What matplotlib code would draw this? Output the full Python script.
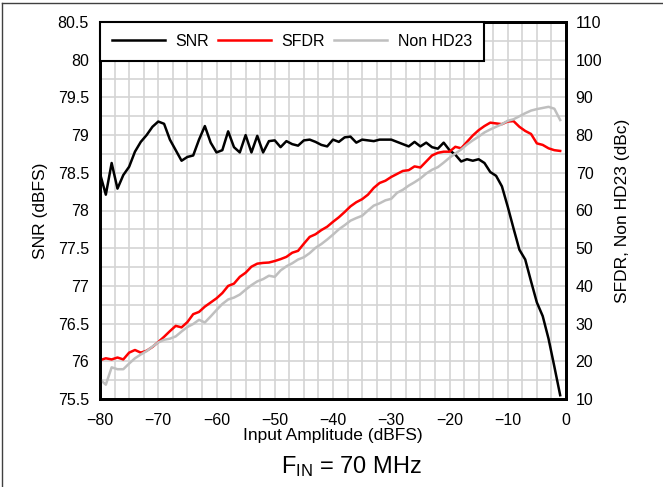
import numpy as np
import matplotlib
matplotlib.use("Agg")
import matplotlib.pyplot as plt
from matplotlib.lines import Line2D
from matplotlib.ticker import MultipleLocator

plt.rcParams['font.family'] = ['Liberation Sans', 'DejaVu Sans']
plt.rcParams['font.size'] = 11.5

# input amplitude (dBFS), 1 dB steps
amp = np.arange(-80, 0)

snr = [78.49, 78.21, 78.63, 78.29, 78.47, 78.58, 78.78, 78.91, 79.00, 79.11,
       79.18, 79.15, 78.94, 78.80, 78.66, 78.71, 78.73, 78.94, 79.12, 78.90,
       78.77, 78.80, 79.05, 78.84, 78.77, 79.00, 78.77, 78.99, 78.77, 78.92,
       78.93, 78.84, 78.92, 78.88, 78.86, 78.93, 78.94, 78.91, 78.87, 78.85,
       78.94, 78.91, 78.97, 78.98, 78.90, 78.94, 78.93, 78.92, 78.94, 78.94,
       78.94, 78.91, 78.88, 78.85, 78.91, 78.85, 78.90, 78.84, 78.82, 78.90,
       78.80, 78.74, 78.65, 78.68, 78.66, 78.68, 78.63, 78.51, 78.46, 78.32,
       78.05, 77.76, 77.48, 77.35, 77.06, 76.78, 76.60, 76.30, 75.93, 75.55]

sfdr = [20.3, 20.8, 20.5, 21.0, 20.5, 22.3, 23.0, 22.3, 22.8, 23.8,
        25.1, 26.5, 28.0, 29.4, 29.0, 30.4, 32.5, 33.1, 34.5, 35.6,
        36.7, 38.1, 40.0, 40.6, 42.4, 43.5, 45.1, 45.9, 46.1, 46.2,
        46.6, 47.1, 47.7, 48.8, 49.3, 51.2, 53.0, 53.7, 54.8, 55.7,
        57.0, 58.2, 59.6, 61.1, 62.2, 63.0, 64.2, 66.0, 67.3, 67.9,
        68.9, 69.7, 70.5, 70.7, 71.7, 71.4, 73.0, 74.6, 75.3, 75.6,
        75.6, 76.9, 76.5, 78.2, 79.9, 81.3, 82.4, 83.3, 83.1, 82.9,
        83.6, 83.7, 82.2, 81.1, 80.3, 77.8, 77.4, 76.5, 76.0, 75.8]

non_hd23 = [15.2, 13.8, 18.4, 17.9, 17.9, 19.4, 20.8, 21.8, 22.7, 23.9,
            25.0, 25.7, 26.0, 26.6, 27.9, 29.1, 29.9, 31.0, 30.3, 31.9,
            33.6, 35.2, 36.4, 36.9, 37.7, 39.0, 40.2, 41.2, 41.8, 42.7,
            42.4, 44.1, 45.2, 46.0, 47.0, 47.6, 48.7, 50.1, 51.1, 52.3,
            53.6, 55.0, 56.1, 57.3, 58.0, 58.6, 60.0, 61.3, 61.9, 62.7,
            63.1, 64.7, 65.5, 66.6, 67.5, 68.5, 69.8, 70.8, 71.5, 72.7,
            74.0, 75.1, 76.2, 77.5, 78.6, 79.6, 80.7, 81.5, 82.2, 82.9,
            83.8, 84.2, 85.0, 85.8, 86.5, 86.9, 87.2, 87.5, 87.0, 84.0]

fig = plt.figure(figsize=(6.63, 4.87), dpi=100)
ax1 = fig.add_axes([100/663, 1-399/487, 466/663, 377/487])
ax2 = ax1.twinx()

ax1.plot(amp, snr, color='black', lw=1.8, zorder=3)
ax2.plot(amp, sfdr, color='#ff0000', lw=1.8)
ax2.plot(amp, non_hd23, color='#bfbfbf', lw=1.8)

ax1.set_xlim(-80, 0)
ax1.set_ylim(75.5, 80.5)
ax2.set_ylim(10, 110)

ax1.xaxis.set_major_locator(MultipleLocator(10))
ax1.xaxis.set_minor_locator(MultipleLocator(2.5))
ax1.yaxis.set_minor_locator(MultipleLocator(0.25))
ax2.yaxis.set_major_locator(MultipleLocator(10))
ax1.set_yticks([75.5, 76, 76.5, 77, 77.5, 78, 78.5, 79, 79.5, 80, 80.5])
ax1.set_yticklabels(['75.5', '76', '76.5', '77', '77.5', '78', '78.5', '79', '79.5', '80', '80.5'])

ax1.grid(which='both', color='#d4d4d4', lw=1.2)
ax1.set_axisbelow(True)
for ax in (ax1, ax2):
    ax.tick_params(which='both', length=0)
    for s in ax.spines.values():
        s.set_linewidth(2)
        s.set_color('black')
ax1.tick_params(axis='y', pad=8)
ax1.tick_params(axis='x', pad=10)
ax2.tick_params(axis='y', pad=7)

ax1.set_xlabel('Input Amplitude (dBFS)', fontsize=12.5, labelpad=0)
ax1.set_ylabel('SNR (dBFS)', fontsize=12.5, labelpad=7)
ax2.set_ylabel('SFDR, Non HD23 (dBc)', fontsize=12.5, labelpad=9)

handles = [Line2D([], [], color='black', lw=1.8),
           Line2D([], [], color='#ff0000', lw=1.8),
           Line2D([], [], color='#bfbfbf', lw=1.8)]
leg = ax2.legend(handles, ['SNR', 'SFDR', 'Non HD23'], loc='upper left',
                 bbox_to_anchor=(0, 1), borderaxespad=0, ncol=3,
                 handlelength=3.3, handletextpad=0.65, columnspacing=0.6,
                 borderpad=0.75, fancybox=False, framealpha=1)
leg.get_frame().set_edgecolor('black')
leg.get_frame().set_linewidth(1.5)

fig.text(351/663, 1-467/487, r'$\mathregular{F_{IN}}$ = 70 MHz', fontsize=17,
         ha='center', va='center')

# thin frame along top and left edge
fig.add_artist(Line2D([2/663, 1], [1-3/487, 1-3/487], transform=fig.transFigure,
                      color='#404040', lw=1))
fig.add_artist(Line2D([2/663, 2/663], [0, 1-3/487], transform=fig.transFigure,
                      color='#404040', lw=1))

fig.savefig('out.png', dpi=100)
